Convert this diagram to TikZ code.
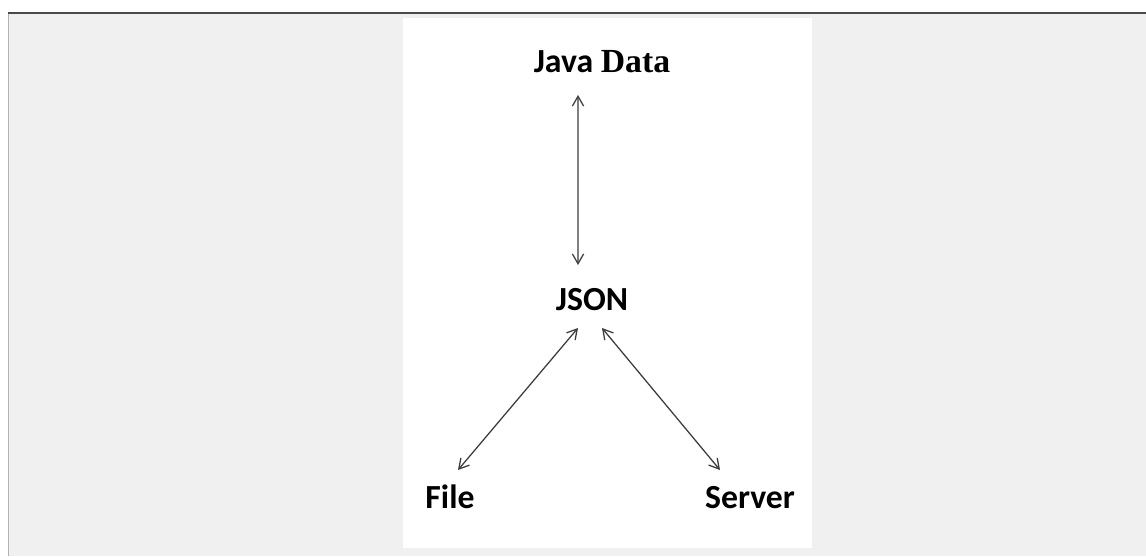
\documentclass[tikz,border=0pt]{standalone}
\usepackage{fontspec}
\usepackage{xcolor}
\usepackage{tikz}
\usetikzlibrary{arrows.meta,positioning,calc}
\newfontfamily\calfont{Carlito}
\newfontfamily\timesfont{Liberation Serif}
\definecolor{pagegray}{HTML}{F0F0F0}
\definecolor{rulegray}{HTML}{4A4A4A}
\definecolor{arrowgray}{HTML}{3C3C3C}

\begin{document}
\begin{tikzpicture}[
    label/.style={font=\calfont\bfseries\fontsize{24}{28}\selectfont, inner sep=0pt, anchor=base},
    arrow/.style={{Straight Barb[length=7pt,width=8pt]}-{Straight Barb[length=7pt,width=8pt]}, line width=0.9pt, draw=arrowgray}
]

% Background
\useasboundingbox (0,0) rectangle (28.65,13.9);
\fill[white] (0,0) rectangle (28.65,13.9);
\fill[pagegray] (0.2,0) rectangle (28.65,13.575);
\draw[rulegray, line width=1.4pt] (0.2,13.575) -- (28.65,13.575);
\draw[gray!60, line width=0.8pt] (0.22,0) -- (0.22,13.55);
\fill[white] (10.075,0.2) rectangle (20.3,13.45);

% Nodes
\node[label] (javadata) at (15.05,12.075) {Java {\timesfont Data}};
\node[label] (json) at (14.8,6.15) {JSON};
\node[label] (file) at (11.25,1.2) {File};
\node[label] (server) at (18.75,1.2) {Server};

% Connectors
\draw[arrow] ([shift={(-0.6,-0.55)}]javadata.base) -- ([shift={(-0.35,1.125)}]json.base);
\draw[arrow] ([shift={(-0.35,-0.45)}]json.base) -- ([shift={(0.2,0.95)}]file.base);
\draw[arrow] ([shift={(0.25,-0.45)}]json.base) -- ([shift={(-0.75,0.95)}]server.base);

\end{tikzpicture}
\end{document}
